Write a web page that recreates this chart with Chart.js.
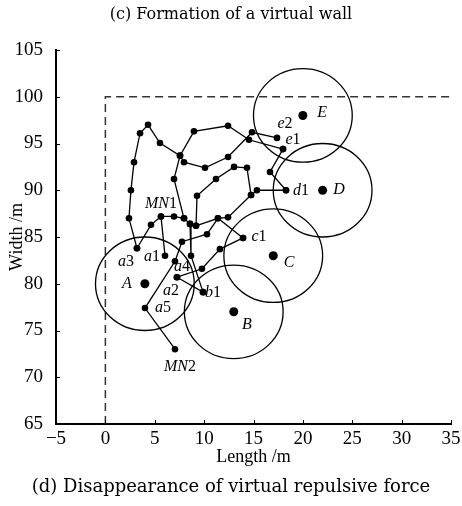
<!DOCTYPE html>
<html>
<head>
<meta charset="utf-8">
<style>
  html, body { margin: 0; padding: 0; background: #fff; }
</style>
<script src="https://cdn.jsdelivr.net/npm/chart.js@4.4.1/dist/chart.umd.min.js"></script>
</head>
<body>
<canvas id="wallChart" width="462" height="506"></canvas>
<script>
// target regions A-E (centre + common radius, metres)
const targetNames = ["A", "B", "C", "D", "E"];
const targetX = [4, 13, 17, 22, 20];
const targetY = [80, 77, 83, 90, 98];
const targetRadius = 5;

// virtual wall (dashed)
const wallPath = [[0, 65], [0, 100], [35, 100]];

// node trajectories
const pathE2 = [[3.2, 83.8], [2.39, 87.0], [2.59, 90.0], [2.9, 93.0], [3.51, 96.1], [4.32, 97.0], [5.53, 95.05],
  [7.56, 93.7], [7.96, 93.0], [10.09, 92.4], [12.42, 93.55], [14.85, 96.2], [17.38, 95.6]];
const pathB1 = [[17.99, 94.4], [14.54, 95.4], [12.42, 96.9], [8.97, 96.3], [7.56, 93.7], [6.95, 91.2],
  [7.96, 87.0], [8.57, 86.4], [8.67, 83.0], [9.89, 79.1]];
const pathD1 = [[9.18, 86.2], [9.28, 89.4], [11.2, 91.2], [13.03, 92.5], [14.34, 92.4], [14.75, 89.5],
  [15.35, 90.0], [18.29, 90.0]];
const pathD1b = [[17.99, 94.4], [16.67, 91.95], [18.29, 90.0]];
const pathA3 = [[3.2, 83.8], [4.62, 86.3], [5.63, 87.2], [6.95, 87.2], [7.96, 87.0]];
const pathA1 = [[6.04, 83.0], [5.63, 87.2]];
const pathC1 = [[8.57, 86.4], [9.18, 86.2], [11.4, 87.0], [13.94, 84.9]];
const pathC1b = [[7.25, 80.7], [9.78, 81.6], [11.6, 83.7], [13.94, 84.9]];
const pathB1b = [[7.25, 80.7], [9.89, 79.1]];
const pathA5 = [[7.05, 73.0], [4.01, 77.4], [7.05, 82.4], [7.76, 84.5], [10.29, 85.3], [11.4, 87.0],
  [12.42, 87.1], [14.75, 89.5]];
const paths = [pathE2, pathB1, pathD1, pathD1b, pathA3, pathA1, pathC1, pathC1b, pathB1b, pathA5];

// point labels
const labelText = ["A", "B", "C", "D", "E", "a1", "a2", "a3", "a4", "a5", "b1", "c1", "d1", "e1", "e2", "MN1", "MN2"];
const labelX = [2.19, 14.34, 18.6, 23.66, 21.94, 4.72, 6.65, 2.09, 7.76, 5.84, 10.9, 15.56, 19.8, 19.0, 18.19, 5.63, 7.56];
const labelY = [80.0, 75.6, 82.2, 90.0, 98.3, 82.9, 79.2, 82.3, 81.8, 77.4, 79.0, 85.0, 89.9, 95.4, 97.1, 88.5, 71.1];

// axis ticks
const xTicks = [-5, 0, 5, 10, 15, 20, 25, 30, 35];
const yTicks = [65, 70, 75, 80, 85, 90, 95, 100, 105];

const serif = "'Liberation Serif', 'Times New Roman', serif";
const capFont = "'DejaVu Serif', serif";

const toPts = arr => arr.map(p => ({ x: p[0], y: p[1] }));

const datasets = paths.map(p => ({
  data: toPts(p),
  showLine: true,
  borderColor: "#000",
  borderWidth: 1.3,
  pointRadius: 3.3,
  pointBackgroundColor: "#000",
  pointBorderWidth: 0
}));

datasets.push({
  data: toPts(wallPath),
  showLine: true,
  borderColor: "#333",
  borderWidth: 1.5,
  borderDash: [8, 5],
  pointRadius: 0
});

datasets.push({
  data: targetX.map((x, i) => ({ x: x, y: targetY[i] })),
  showLine: false,
  pointRadius: 4.5,
  pointBackgroundColor: "#000",
  pointBorderWidth: 0
});

// circles, inward ticks, labels and captions
const extras = {
  id: "extras",
  afterDatasetsDraw(chart) {
    const { ctx, scales: { x, y } } = chart;
    ctx.save();
    ctx.strokeStyle = "#000";
    ctx.lineWidth = 1.3;
    targetX.forEach((cx, i) => {
      const px = x.getPixelForValue(cx);
      const py = y.getPixelForValue(targetY[i]);
      const rx = Math.abs(x.getPixelForValue(cx + targetRadius) - px);
      const ry = Math.abs(y.getPixelForValue(targetY[i] + targetRadius) - py);
      ctx.beginPath();
      ctx.ellipse(px, py, rx, ry, 0, 0, Math.PI * 2);
      ctx.stroke();
    });
    ctx.restore();
  },
  afterDraw(chart) {
    const { ctx, chartArea: a, scales: { x, y } } = chart;
    ctx.save();
    ctx.strokeStyle = "#000";
    ctx.lineWidth = 1;
    xTicks.forEach(v => {
      const px = Math.round(x.getPixelForValue(v)) + 0.5;
      ctx.beginPath();
      ctx.moveTo(px, a.bottom);
      ctx.lineTo(px, a.bottom - 4);
      ctx.stroke();
    });
    yTicks.forEach(v => {
      const py = Math.round(y.getPixelForValue(v)) + 0.5;
      ctx.beginPath();
      ctx.moveTo(a.left, py);
      ctx.lineTo(a.left + 4, py);
      ctx.stroke();
    });

    // labels: letters italic, index digit upright
    ctx.fillStyle = "#000";
    ctx.textBaseline = "middle";
    ctx.textAlign = "left";
    labelText.forEach((t, i) => {
      const m = t.match(/^([A-Za-z]+)(\d*)$/);
      const itFont = "italic 16px " + serif;
      const upFont = "16px " + serif;
      ctx.font = itFont;
      const w1 = ctx.measureText(m[1]).width;
      ctx.font = upFont;
      const w2 = ctx.measureText(m[2]).width;
      const cx = x.getPixelForValue(labelX[i]) - (w1 + w2) / 2;
      const cy = y.getPixelForValue(labelY[i]);
      ctx.font = itFont;
      ctx.fillText(m[1], cx, cy);
      ctx.font = upFont;
      ctx.fillText(m[2], cx + w1, cy);
    });

    // captions
    ctx.textAlign = "center";
    ctx.font = "16px " + capFont;
    ctx.fillText("(c) Formation of a virtual wall", 231, 15);
    ctx.font = "18px " + capFont;
    ctx.fillText("(d) Disappearance of virtual repulsive force", 231, 487);
    ctx.restore();
  }
};

new Chart(document.getElementById("wallChart"), {
  type: "scatter",
  data: { datasets: datasets },
  options: {
    responsive: false,
    animation: false,
    layout: { padding: { top: 50, right: 11, left: 0, bottom: 0 } },
    plugins: {
      legend: { display: false },
      tooltip: { enabled: false }
    },
    scales: {
      x: {
        type: "linear",
        min: -5,
        max: 35,
        afterFit: s => { s.height = 82; },
        afterBuildTicks: s => { s.ticks = xTicks.map(v => ({ value: v })); },
        grid: { display: false },
        border: { display: true, color: "#000", width: 2 },
        ticks: {
          color: "#000",
          padding: -4,
          font: { family: serif, size: 19 },
          callback: v => String(v).replace("-", "\u2212")
        },
        title: {
          display: true,
          text: "Length /m",
          color: "#000",
          font: { family: serif, size: 18 },
          padding: { bottom: 38 }
        }
      },
      y: {
        type: "linear",
        min: 65,
        max: 105,
        afterFit: s => { s.width = 56; },
        afterBuildTicks: s => { s.ticks = yTicks.map(v => ({ value: v })); },
        grid: { display: false },
        border: { display: true, color: "#000", width: 2 },
        ticks: {
          color: "#000",
          padding: 5,
          font: { family: serif, size: 19 }
        },
        title: {
          display: true,
          text: "Width /m",
          color: "#000",
          font: { family: serif, size: 18 },
          padding: { top: 6 }
        }
      }
    }
  },
  plugins: [extras]
});
</script>
</body>
</html>
